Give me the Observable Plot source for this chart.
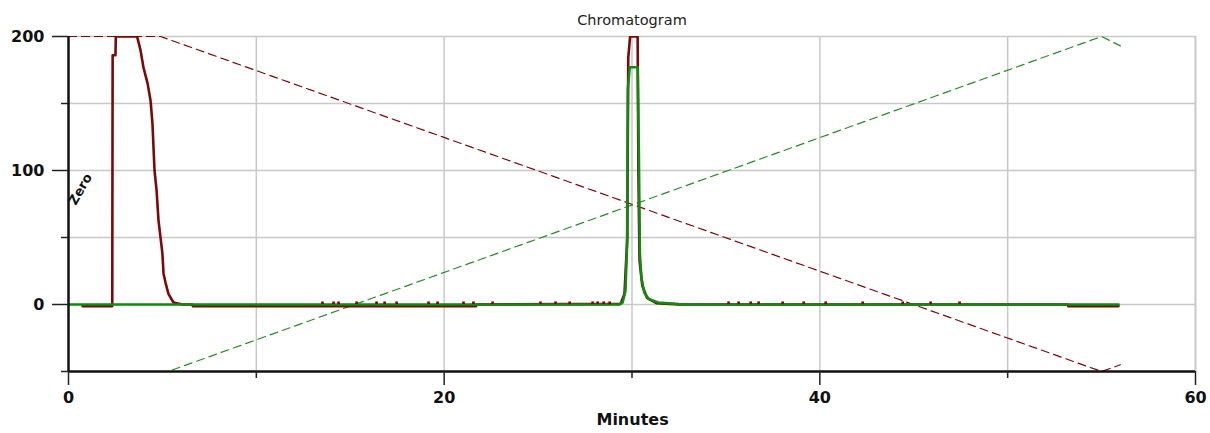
<!DOCTYPE html>
<html>
<head>
<meta charset="utf-8">
<script src="https://cdn.jsdelivr.net/npm/d3@7"></script>
<script src="https://cdn.jsdelivr.net/npm/@observablehq/plot@0.6"></script>
<style>
  html, body { margin: 0; padding: 0; background: #fff; }
  svg { display: block; }
</style>
</head>
<body>
<div id="chart"></div>
<script>
// ---- data ----
const title = "Chromatogram";
const xLabel = "Minutes";
const yLabel = "Zero";

const xTicksMajor = [0, 20, 40, 60];
const xTicksMinor = [10, 30, 50];
const yTicksMajor = [0, 100, 200];
const yTicksMinor = [-50, 50, 150];
const xGrid = [10, 20, 30, 40, 50];
const yGrid = [0, 50, 100, 150, 200];

// detector trace 1 (dark red), [minutes, value]
const redTrace = [
  [0.75, -1.2], [2.33, -1.2], [2.35, 186], [2.5, 186], [2.52, 200], [3.62, 200],
  [3.67, 199], [3.83, 190], [3.99, 177], [4.21, 165], [4.37, 152], [4.47, 135],
  [4.58, 100], [4.69, 85], [4.79, 63], [5.0, 38], [5.06, 23], [5.17, 16],
  [5.32, 8], [5.59, 1.5], [6.07, 0], [6.6, 0], [6.62, -1.2], [21.7, -1.2],
  [21.72, 0], [29.4, 0.5], [29.6, 8], [29.75, 50], [29.8, 184], [29.9, 200],
  [30.3, 200], [30.34, 100], [30.4, 33], [30.55, 14], [30.8, 5], [31.3, 1],
  [32.5, 0], [53.2, 0], [53.22, -1.2], [55.9, -1.2]
];

// detector trace 2 (green)
const greenTrace = [
  [0, 0], [29.3, 0], [29.5, 1.5], [29.65, 10], [29.74, 45], [29.78, 161],
  [29.88, 177], [30.3, 177], [30.36, 120], [30.42, 38], [30.5, 20], [30.65, 9],
  [30.9, 4], [31.4, 1.5], [32.5, 0.3], [33.5, 0], [55.9, 0]
];

// gradient programme lines (dashed)
const redGradient = [[0, 200], [4.9, 200], [55, -50], [56, -45]];
const greenGradient = [[0, -50], [5.3, -50], [55, 200], [56, 193]];

// small noise spikes on the red trace baseline (minutes)
const noiseX = [13.52, 14.11, 14.38, 15.34, 16.40, 16.83, 17.47, 19.17, 19.65, 21.03,
  21.56, 22.58, 25.13, 25.93, 26.68, 27.9, 28.17, 28.49, 28.81, 35.14, 35.68, 36.32,
  36.74, 38.02, 39.14, 40.31, 42.28, 44.41, 45.9, 47.44];
const noiseY = 1.3;

// ---- chart ----
const font = "DejaVu Sans, Verdana, sans-serif";
const darkRed = "#7a0a0a";
const green = "#118a11";
const axisColor = "#111";
const gridColor = "#c8c8c8";

const chart = Plot.plot({
  width: 1210,
  height: 433,
  marginLeft: 68,
  marginRight: 15,
  marginTop: 36,
  marginBottom: 62,
  style: { fontFamily: font, background: "#fff", overflow: "visible" },
  x: { domain: [0, 60] },
  y: { domain: [-50, 200] },
  marks: [
    // grid
    Plot.ruleX(xGrid, { stroke: gridColor, strokeWidth: 1.5 }),
    Plot.ruleY(yGrid, { stroke: gridColor, strokeWidth: 1.5 }),
    Plot.ruleX([60], { stroke: gridColor, strokeWidth: 2 }),
    // gradient dashed lines
    Plot.line(redGradient, { x: d => d[0], y: d => d[1], stroke: darkRed, strokeWidth: 1.2, strokeDasharray: "8,5", clip: true }),
    Plot.line(greenGradient, { x: d => d[0], y: d => d[1], stroke: "#2a8a2a", strokeWidth: 1.2, strokeDasharray: "8,5", clip: true }),
    // traces
    Plot.line(redTrace, { x: d => d[0], y: d => d[1], stroke: darkRed, strokeWidth: 2.6, clip: true }),
    Plot.line(greenTrace, { x: d => d[0], y: d => d[1], stroke: green, strokeWidth: 2.6, clip: true }),
    Plot.dot(noiseX, { x: d => d, y: () => noiseY, symbol: "square", r: 1.5, fill: darkRed, stroke: null }),
    // axes lines
    Plot.ruleY([-50], { stroke: axisColor, strokeWidth: 2.5 }),
    Plot.ruleX([0], { stroke: axisColor, strokeWidth: 2.5 }),
    // x axis ticks
    Plot.axisX(xTicksMajor, { tickSize: 14, tickPadding: 6, stroke: "#222", strokeWidth: 1.5,
      fontSize: 16, fontWeight: "bold", fill: "#111", label: null, tickFormat: d => d }),
    Plot.axisX(xTicksMinor, { tickSize: 7, stroke: "#222", strokeWidth: 1.5, tickFormat: () => "", label: null }),
    // y axis ticks
    Plot.axisY(yTicksMajor, { tickSize: 16, tickPadding: 8, stroke: "#222", strokeWidth: 1.5,
      fontSize: 16, fontWeight: "bold", fill: "#111", label: null, tickFormat: d => d }),
    Plot.axisY(yTicksMinor, { tickSize: 7, stroke: "#222", strokeWidth: 1.5, tickFormat: () => "", label: null }),
    // title
    Plot.text([title], { frameAnchor: "top", dy: -16, fontSize: 14.5, fill: "#222", lineAnchor: "middle" }),
    // x label
    Plot.text([xLabel], { x: () => 30.03, frameAnchor: "bottom", dy: 48, fontSize: 16, fontWeight: "bold", fill: "#111", lineAnchor: "middle" }),
    // odd rotated y label
    Plot.text([yLabel], { x: () => 0.64, y: () => 86, rotate: -60, fontSize: 13, fontWeight: "bold", fill: "#111" })
  ]
});

document.getElementById("chart").appendChild(chart);
</script>
</body>
</html>
